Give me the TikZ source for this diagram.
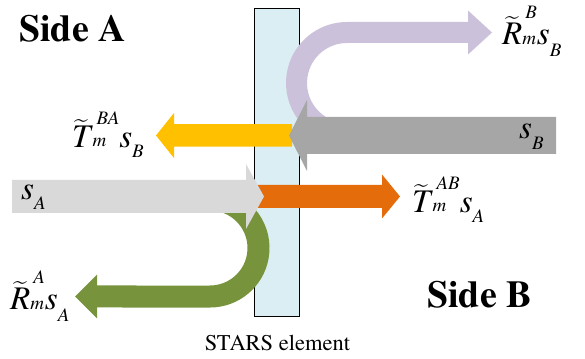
\RequirePackage{fix-cm}
\documentclass[tikz,border=0pt]{standalone}
\usepackage{amsmath}
\usepackage{exscale}
\usepackage{fontspec}
\IfFontExistsTF{texgyretermes-regular.otf}{%
  \setmainfont{texgyretermes}[Extension=.otf,UprightFont=*-regular,BoldFont=*-bold,ItalicFont=*-italic,BoldItalicFont=*-bolditalic]}{%
  \setmainfont{Liberation Serif}}
\usetikzlibrary{calc}
\definecolor{panelblue}{HTML}{DAEEF3}
\definecolor{lav}{HTML}{CCC1DA}
\definecolor{gold}{HTML}{FFC000}
\definecolor{midgray}{HTML}{A6A6A6}
\definecolor{palegray}{HTML}{D9D9D9}
\definecolor{orng}{HTML}{E46C0A}
\definecolor{olivegrn}{HTML}{77933C}
\newcommand\scrf{\fontsize{19pt}{19pt}\selectfont\itshape}
\newcommand\mainf{\fontsize{33pt}{38pt}\selectfont\itshape}
\newcommand\tld[1]{\ensuremath{\widetilde{\mbox{#1}}}}
% sup, sub, sup raise, sub raise, sup kern, sub kern
\newcommand\stk[6]{\setbox0=\hbox{\kern#5\raisebox{#3}{\scrf #1}}\setbox2=\hbox{\kern#6\raisebox{#4}{\scrf #2}}\ifdim\wd0>\wd2 \rlap{\box2}\box0 \else\rlap{\box0}\box2 \fi}
\newcommand\lsc[2]{\raisebox{#1}{\scrf #2}}
\tikzset{
  lbl/.style={anchor=base west, inner sep=0pt, font=\mainf},
  sidelbl/.style={anchor=base west, inner sep=0pt, font=\fontsize{38pt}{40pt}\selectfont\bfseries},
  band/.style={line cap=butt},
}
\begin{document}
\begin{tikzpicture}[x=1pt,y=1pt]
\useasboundingbox (0,0) rectangle (585,358);
% STARS panel
\node[draw=black, line width=0.8pt, fill=panelblue, minimum width=45pt, minimum height=308pt, inner sep=0pt, anchor=south west] (panel) at (254,41) {};
% purple reflected arrow (side B)
\coordinate (pstart) at (329.73,227.55);
\coordinate (pbase) at (468.5,325.5);
\coordinate (ptip) at (492,325.5);
\draw[band, lav, line width=21pt] (pstart) arc[start angle=250, end angle=90, radius=50.5] -- (pbase);
\fill[lav] (468,347.5) -- (ptip) -- (468,303.5) -- cycle;
% green reflected arrow (side A)
\coordinate (gstart) at (218.42,157.76);
\coordinate (gbase) at (96.5,61.5);
\coordinate (gtip) at (75,61.5);
\draw[band, olivegrn, line width=22pt] (gstart) arc[start angle=80, end angle=-90, radius=48.5] -- (gbase);
\fill[olivegrn] (97,83.5) -- (gtip) -- (97,39.5) -- cycle;
% yellow transmitted arrow (to side A)
\fill[gold] (292,211.25) -- (174,211.25) -- (174,200) -- (156,222.5) -- (174,245) -- (174,233.75) -- (292,233.75) -- cycle;
% orange transmitted arrow (to side B)
\fill[orng] (258,150) -- (382,150) -- (382,139.5) -- (400,161.5) -- (382,183.5) -- (382,173) -- (258,173) -- cycle;
% gray incident arrow s_B
\fill[midgray] (556,204) -- (307,204) -- (307,187) -- (289,222.5) -- (307,258) -- (307,241) -- (556,241) -- cycle;
% light gray incident arrow s_A
\fill[palegray] (12,145) -- (246,145) -- (246,129) -- (264,161.5) -- (246,194) -- (246,178) -- (12,178) -- cycle;
% labels
\node[sidelbl] (sideA) at (19,316) {Side A};
\node[sidelbl] (sideB) at (427,50) {Side B};
\node[anchor=base, inner sep=0pt, font=\fontsize{22.5pt}{24pt}\selectfont] (stars) at (277.5,8) {STARS element};
\node[lbl] (tBA) at (72,210) {\tld{T}\stk{BA}{m}{23pt}{1pt}{6pt}{2pt}s\lsc{-10pt}{B}};
\node[lbl] (rB) at (502,313) {\tld{R}\stk{B}{m}{26pt}{0pt}{3pt}{0pt}s\lsc{-12pt}{B}};
\node[lbl] (tAB) at (412,145) {\tld{T}\stk{AB}{m}{23pt}{1pt}{6pt}{2pt}s\lsc{-10pt}{A}};
\node[lbl] (rA) at (10,48) {\tld{R}\stk{A}{m}{26pt}{0pt}{3pt}{0pt}s\lsc{-12pt}{A}};
\node[lbl] (sA) at (21,158) {s\lsc{-10pt}{A}};
\node[lbl] (sB) at (519,219) {s\lsc{-11pt}{B}};
\end{tikzpicture}
\end{document}
